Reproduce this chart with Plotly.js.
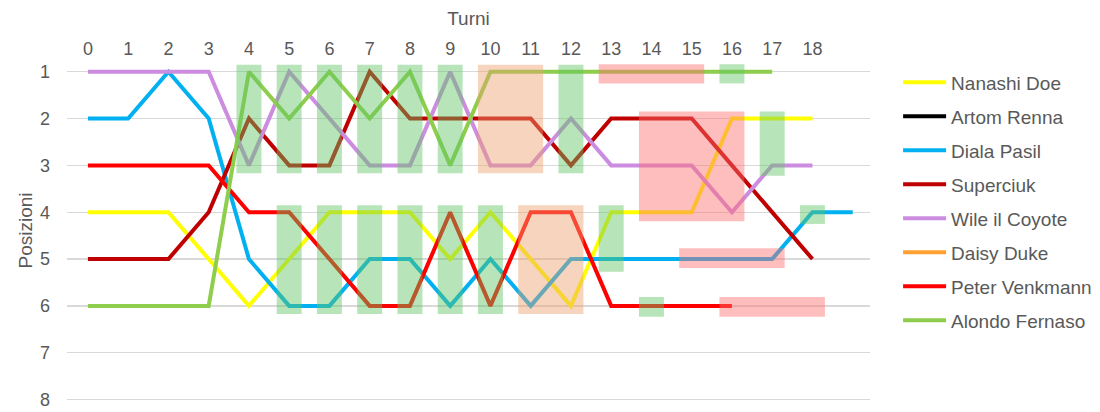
<!DOCTYPE html>
<html>
<head>
<meta charset="utf-8">
<script src="https://cdn.plot.ly/plotly-3.0.1.min.js"></script>
<style>
html,body{margin:0;padding:0;background:#fff;}
#chart{width:1100px;height:412px;}
</style>
</head>
<body>
<div id="chart"></div>
<script>
// ---- data ----
var turns = [0,1,2,3,4,5,6,7,8,9,10,11,12,13,14,15,16,17,18,19];
var turnLabels = [0,1,2,3,4,5,6,7,8,9,10,11,12,13,14,15,16,17,18];
var positionTicks = [1,2,3,4,5,6,7,8];

var names = ["Nanashi Doe","Artom Renna","Diala Pasil","Superciuk","Wile il Coyote","Daisy Duke","Peter Venkmann","Alondo Fernaso"];

var nanashiDoe    = [4,4,4,5,6,5,4,4,4,5,4,5,6,4,4,4,2,2,2,null];
var artomRenna    = [null,null,null,null,null,null,null,null,null,null,null,null,null,null,null,null,null,null,null,null];
var dialaPasil    = [2,2,1,2,5,6,6,5,5,6,5,6,5,5,5,5,5,5,4,4];
var superciuk     = [5,5,5,4,2,3,3,1,2,2,2,2,3,2,2,2,3,4,5,null];
var wileIlCoyote  = [1,1,1,1,3,1,2,3,3,1,3,3,2,3,3,3,4,3,3,null];
var daisyDuke     = [null,null,null,null,null,null,null,null,null,null,null,null,null,null,null,null,null,null,null,null];
var peterVenkmann = [3,3,3,3,4,4,5,6,6,4,6,4,4,6,6,6,6,null,null,null];
var alondoFernaso = [6,6,6,6,1,2,1,2,1,3,1,1,1,1,1,1,1,1,null,null];

// highlight regions: [first turn, last turn, top position, bottom position, kind]
var hlTurnStart = [4,5,6,7,8,9, 10, 12, 13, 16, 14, 17, 5,6,7,8,9,10, 11, 13, 14, 15, 16, 18];
var hlTurnEnd   = [4,5,6,7,8,9, 11, 12, 15, 16, 16, 17, 5,6,7,8,9,10, 12, 13, 14, 17, 18, 18];
var hlPosTop    = [0.85,0.85,0.85,0.85,0.85,0.85, 0.85, 0.85, 0.84, 0.84, 1.85, 1.85, 3.85,3.85,3.85,3.85,3.85,3.85, 3.85, 3.85, 5.81, 4.77, 5.81, 3.85];
var hlPosBottom = [3.17,3.17,3.17,3.17,3.17,3.17, 3.17, 3.17, 1.25, 1.25, 4.19, 3.22, 6.17,6.17,6.17,6.17,6.17,6.17, 6.17, 5.27, 6.23, 5.19, 6.23, 4.25];
var hlKind      = ["g","g","g","g","g","g","o","g","r","g","r","g","g","g","g","g","g","g","o","g","g","r","r","g"];

// ---- styles ----
var colors = ["#FFFF00","#000000","#00B0F0","#C00000","#CC8CE0","#FFA033","#FF0000","#8FCE4C"];
var series = [nanashiDoe, artomRenna, dialaPasil, superciuk, wileIlCoyote, daisyDuke, peterVenkmann, alondoFernaso];
var fills = {g:"rgba(95,198,100,0.45)", r:"rgba(255,111,111,0.45)", o:"rgba(235,159,111,0.45)"};
var FONT = "Liberation Sans, Arial, sans-serif";
var TXT = "#595959";

var traces = series.map(function(vals, i){
  return {
    type:"scatter", mode:"lines", name:names[i],
    x:turns, y:vals,
    line:{color:colors[i], width:4},
    legendgroup:"g"+i,
    connectgaps:false,
    hoverinfo:"x+y+name"
  };
});

var shapes = hlTurnStart.map(function(s, i){
  return {
    type:"rect", xref:"x", yref:"y", layer:"above",
    x0:s-0.31, x1:hlTurnEnd[i]+0.31,
    y0:hlPosTop[i], y1:hlPosBottom[i],
    fillcolor:fills[hlKind[i]], line:{width:0}
  };
});

var layout = {
  width:1100, height:412,
  margin:{l:67, r:230, t:60, b:11, pad:0, autoexpand:false},
  paper_bgcolor:"#fff", plot_bgcolor:"#fff",
  font:{family:FONT, color:TXT, size:18},
  showlegend:true,
  legend:{
    x:1.035, xanchor:"left", y:0.99, yanchor:"top",
    font:{family:FONT, color:TXT, size:19},
    tracegroupgap:6.3, traceorder:"grouped", itemwidth:43,
    bgcolor:"rgba(0,0,0,0)", borderwidth:0
  },
  xaxis:{
    side:"top", range:[-0.52,19.43],
    tickmode:"array", tickvals:turnLabels, ticktext:turnLabels.map(String),
    showgrid:false, zeroline:false, showline:false, ticks:"",
    tickfont:{family:FONT, color:TXT, size:18},
    title:{text:"Turni", font:{family:FONT, color:TXT, size:19}, standoff:8}
  },
  yaxis:{
    range:[8.03,0.75],
    tickmode:"array", tickvals:positionTicks, ticktext:positionTicks.map(String),
    showgrid:true, gridcolor:"#D9D9D9", gridwidth:1.3,
    zeroline:false, showline:false, ticks:"",
    ticklabelstandoff:16,
    tickfont:{family:FONT, color:TXT, size:18},
    title:{text:"Posizioni", font:{family:FONT, color:TXT, size:19}, standoff:2}
  },
  shapes:shapes
};

Plotly.newPlot("chart", traces, layout, {displayModeBar:false, staticPlot:true});
</script>
</body>
</html>
